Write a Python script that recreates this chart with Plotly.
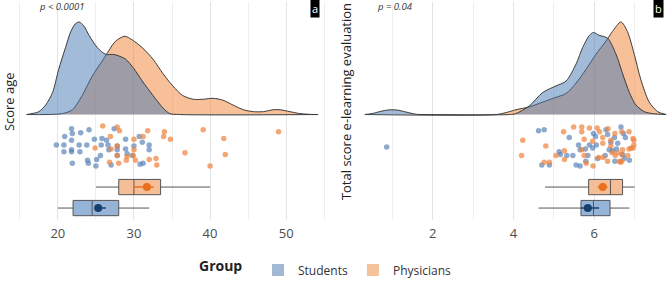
import plotly.graph_objects as go

# ---------------- data ----------------
groups = ["Students", "Physicians"]

# Panel a: age -- density curves (relative heights)
age_dens_x_students = [15.9, 16.6, 17.5, 18.4, 19.3, 20.1, 21.0, 21.7, 22.3, 22.8, 23.4, 24.1, 25.2,
                       26.3, 27.2, 27.8, 28.9, 30.0, 31.1, 32.5, 33.8, 34.7, 36.0, 54.2]
age_dens_students = [0, 1, 3, 10, 23, 47, 70, 87, 95, 97, 93, 83, 70,
                     63, 63, 62, 58, 48, 35, 20, 7, 1, 0, 0]
age_dens_x_physicians = [15.9, 20.6, 21.9, 23.2, 24.5, 25.9, 26.7, 27.6, 28.8, 29.8, 31.1, 32.5, 33.8,
                         35.1, 36.4, 37.8, 39.1, 40.4, 41.7, 43.0, 44.4, 45.7, 47.0, 48.3, 49.2, 50.5,
                         51.8, 53.6, 54.2]
age_dens_physicians = [0, 1, 5, 20, 40, 57, 67, 77, 82, 78, 70, 58, 43,
                       30, 20, 16, 16, 17, 15, 10, 5, 3, 3, 5, 5, 3,
                       1, 0, 0]

age_students = [21.8, 24.1, 23.0, 21.9, 20.9, 21.8, 19.8, 20.8, 22.8, 23.8, 24.8, 25.8, 25.7, 26.4,
                26.6, 27.4, 28.9, 28.9, 27.8, 26.7, 25.6, 25.1, 23.9, 24.0, 25.0, 21.9, 20.8, 21.8,
                21.8, 22.9, 27.0, 27.8, 29.1, 29.8, 30.0, 30.7, 31.1, 32.0, 32.0, 31.2, 30.8, 27.8]
age_students_jit = [15, 16, 19, 20, 23, 27, 32, 32, 32, 32, 26, 25, 32, 27, 32, 15, 26, 36, 37, 37,
                    43, 47, 48, 51, 54, 51, 39, 37, 39, 39, 53, 43, 41, 43, 33, 23, 29, 32, 37, 51, 52, 33]
age_physicians = [25.9, 27.8, 28.1, 26.9, 24.9, 27.0, 27.8, 27.8, 29.1, 29.0, 30.0, 30.0, 29.9, 30.2,
                  31.2, 31.8, 34.0, 33.9, 34.8, 32.9, 33.0, 32.0, 26.8, 28.0, 36.7, 39.1, 41.8, 42.0,
                  40.0, 49.0]
age_physicians_jit = [12, 13, 17, 23, 35, 36, 33, 43, 44, 48, 26, 37, 43, 48, 23, 17, 18, 23, 26, 46,
                      53, 47, 50, 51, 40, 16, 25, 42, 54, 18]

# box statistics  [Students, Physicians]
age_q1 = [22.0, 28.0]
age_median = [24.5, 30.0]
age_q3 = [28.0, 33.5]
age_lo = [20.0, 25.0]
age_hi = [32.0, 40.0]
age_mean = [25.3, 31.7]
age_ci_lo = [24.8, 30.0]
age_ci_hi = [26.3, 32.6]

# Panel b: total score e-learning evaluation
eval_dens_x_students = [0.32, 0.50, 0.68, 0.85, 0.99, 1.15, 1.30, 1.59, 1.90, 3.90, 4.06, 4.39, 4.72,
                        5.05, 5.30, 5.55, 5.71, 5.88, 5.98, 6.12, 6.33, 6.54, 6.70, 6.87, 7.03, 7.24,
                        7.44, 7.78]
eval_dens_students = [0, 1, 3, 4.5, 5, 4.5, 3, 0.3, 0, 0, 1, 9, 23,
                      30, 35, 53, 70, 83, 86, 83, 80, 63, 43, 23, 10, 3,
                      1, 0]
eval_dens_x_physicians = [0.32, 3.57, 3.81, 4.06, 4.39, 4.72, 5.05, 5.30, 5.55, 5.79, 6.04, 6.29, 6.45,
                          6.66, 6.82, 6.99, 7.15, 7.36, 7.57, 7.78]
eval_dens_physicians = [0, 0, 2, 5, 8, 13, 18, 22, 33, 47, 63, 77, 87,
                        97, 87, 63, 37, 13, 3, 0]

eval_students = [4.62, 4.76, 5.38, 5.61, 5.13, 5.16, 5.32, 5.47, 5.65, 5.78, 5.84, 5.96, 6.05, 6.08,
                 5.79, 5.55, 5.65, 4.70, 4.89, 5.98, 6.03, 6.33, 6.29, 6.50, 6.41, 6.58, 6.55, 6.66,
                 6.72, 6.77, 6.74, 6.87, 6.27, 6.37, 6.45, 6.51, 6.70, 5.88, 0.86]
eval_students_jit = [17, 16, 24, 32, 39, 42, 43, 43, 37, 36, 43, 35, 32, 46, 49, 53, 54, 53, 53, 20,
                     23, 21, 16, 24, 29, 30, 36, 13, 20, 24, 46, 48, 43, 37, 38, 49, 42, 32, 34]
eval_physicians = [4.23, 4.20, 4.80, 4.76, 4.89, 5.24, 5.49, 5.69, 5.88, 6.07, 6.13, 6.21, 6.41, 5.96,
                   5.75, 5.69, 5.75, 5.26, 5.05, 5.26, 5.80, 5.97, 6.11, 6.22, 6.34, 6.51, 6.68, 6.86,
                   6.96, 6.98, 6.86, 6.96, 6.83, 6.70, 6.58, 6.62, 6.68, 6.33, 6.41, 6.21, 6.52, 6.44,
                   6.91, 6.98, 6.68, 5.69, 6.65]
eval_physicians_jit = [27, 43, 33, 50, 50, 18, 13, 13, 14, 14, 18, 24, 27, 28, 26, 37, 43, 38, 43, 47,
                       51, 54, 45, 45, 15, 20, 18, 18, 25, 32, 36, 35, 43, 37, 40, 49, 49, 49, 33, 30,
                       43, 40, 35, 27, 42, 18, 50]

eval_q1 = [5.67, 5.86]
eval_median = [5.98, 6.40]
eval_q3 = [6.39, 6.70]
eval_lo = [4.62, 4.78]
eval_hi = [6.87, 7.00]
eval_mean = [5.84, 6.21]
eval_ci_lo = [5.67, 6.08]
eval_ci_hi = [6.12, 6.33]

p_values = ["p < 0.0001", "p = 0.04"]
panel_tags = ["a", "b"]
y_titles = ["Score age", "Total score e-learning evaluation"]
legend_title = "Group"

# ---------------- styling ----------------
FONT = "Open Sans"
DENS_H = 97  # height of the tallest density in y units (1 unit ~ 1px)
dens_fill = {"Students": "rgba(70,120,180,0.5)", "Physicians": "rgba(240,130,50,0.5)"}
pt_col = {"Students": "rgba(80,125,180,0.65)", "Physicians": "rgba(240,130,60,0.7)"}
box_fill = {"Students": "rgba(150,180,215,1)", "Physicians": "rgba(246,190,150,1)"}
mean_col = {"Students": "#163f6e", "Physicians": "#e8701e"}
leg_col = {"Students": "#a3b8d3", "Physicians": "#f6c29a"}
box_pos = {"Physicians": -76, "Students": -98}

fig = go.Figure()

panels = [
    dict(xa="x", ya="y",
         dx={"Students": age_dens_x_students, "Physicians": age_dens_x_physicians},
         dy={"Students": age_dens_students, "Physicians": age_dens_physicians},
         vals={"Students": age_students, "Physicians": age_physicians},
         jit={"Students": age_students_jit, "Physicians": age_physicians_jit},
         q1=age_q1, med=age_median, q3=age_q3, lo=age_lo, hi=age_hi,
         mean=age_mean, cil=age_ci_lo, cih=age_ci_hi),
    dict(xa="x2", ya="y2",
         dx={"Students": eval_dens_x_students, "Physicians": eval_dens_x_physicians},
         dy={"Students": eval_dens_students, "Physicians": eval_dens_physicians},
         vals={"Students": eval_students, "Physicians": eval_physicians},
         jit={"Students": eval_students_jit, "Physicians": eval_physicians_jit},
         q1=eval_q1, med=eval_median, q3=eval_q3, lo=eval_lo, hi=eval_hi,
         mean=eval_mean, cil=eval_ci_lo, cih=eval_ci_hi),
]

for p in panels:
    top = max(max(p["dy"]["Students"]), max(p["dy"]["Physicians"]))
    # densities (orange first, blue on top)
    for g in ["Physicians", "Students"]:
        fig.add_trace(go.Scatter(
            x=p["dx"][g], y=[v / top * DENS_H for v in p["dy"][g]],
            mode="lines", line=dict(color="#3c3c3c", width=1, shape="spline", smoothing=0.8),
            fill="tozeroy", fillcolor=dens_fill[g],
            xaxis=p["xa"], yaxis=p["ya"], hoverinfo="skip", showlegend=False))
    # jittered points
    for g in ["Students", "Physicians"]:
        fig.add_trace(go.Scatter(
            x=p["vals"][g], y=[-j for j in p["jit"][g]], mode="markers",
            marker=dict(size=5.5, color=pt_col[g], line=dict(width=0)),
            xaxis=p["xa"], yaxis=p["ya"], hoverinfo="skip", showlegend=False))
    # boxes
    for gi, g in enumerate(groups):
        fig.add_trace(go.Box(
            y=[box_pos[g]], q1=[p["q1"][gi]], median=[p["med"][gi]], q3=[p["q3"][gi]],
            lowerfence=[p["lo"][gi]], upperfence=[p["hi"][gi]], orientation="h",
            width=16, whiskerwidth=0, boxpoints=False, fillcolor=box_fill[g],
            line=dict(color="#555555", width=1),
            xaxis=p["xa"], yaxis=p["ya"], hoverinfo="skip", showlegend=False))
        fig.add_trace(go.Scatter(
            x=[p["mean"][gi]], y=[box_pos[g]], mode="markers",
            marker=dict(size=8, color=mean_col[g]),
            error_x=dict(type="data", symmetric=False,
                         array=[p["cih"][gi] - p["mean"][gi]],
                         arrayminus=[p["mean"][gi] - p["cil"][gi]],
                         width=0, thickness=1.5, color=mean_col[g]),
            xaxis=p["xa"], yaxis=p["ya"], hoverinfo="skip", showlegend=False))

# legend entries
for g in groups:
    fig.add_trace(go.Scatter(
        x=[None], y=[None], mode="markers", name=g,
        marker=dict(symbol="square", size=16, color=leg_col[g]),
        xaxis="x", yaxis="y"))

ydom = [(285 - 230) / 285, (285 - 2) / 285]
common_y = dict(range=[-110, 118], showticklabels=False, showgrid=False, zeroline=False,
                domain=ydom, fixedrange=True)
xcommon = dict(showgrid=True, gridcolor="#e4e4e4", gridwidth=1, zeroline=False, showline=False,
               ticks="", tickfont=dict(family=FONT, size=13, color="#4d4d4d"), ticklabelstandoff=4)

fig.update_layout(
    width=669, height=285,
    margin=dict(l=0, r=0, t=0, b=0),
    paper_bgcolor="white", plot_bgcolor="white",
    boxmode="overlay",
    font=dict(family=FONT, color="#222222"),
    xaxis=dict(domain=[16 / 669, 328 / 669], range=[14.5, 55.5], dtick=10, tick0=0,
               minor=dict(dtick=5, showgrid=True, gridcolor="#efefef", gridwidth=1), **xcommon),
    yaxis=dict(anchor="x", **common_y),
    xaxis2=dict(domain=[356 / 669, 1.0], range=[0.1, 7.85], dtick=2, tick0=0,
                minor=dict(dtick=1, showgrid=True, gridcolor="#efefef", gridwidth=1), **xcommon),
    yaxis2=dict(anchor="x2", **common_y),
    legend=dict(orientation="h", x=258 / 669, xanchor="left", y=2 / 285, yanchor="middle",
                font=dict(family=FONT, size=12, color="#333333"),
                itemsizing="constant", tracegroupgap=0, bgcolor="rgba(0,0,0,0)"),
)

title_y = 1 - 107 / 285
annotations = [
    dict(text=y_titles[0], x=9 / 669, y=title_y, xref="paper", yref="paper", textangle=-90,
         showarrow=False, font=dict(family=FONT, size=13, color="#222222"),
         xanchor="center", yanchor="middle"),
    dict(text=y_titles[1], x=346 / 669, y=title_y, xref="paper", yref="paper", textangle=-90,
         showarrow=False, font=dict(family=FONT, size=13, color="#222222"),
         xanchor="center", yanchor="middle"),
    dict(text="<b>" + legend_title + "</b>", x=220 / 669, y=7 / 285, xref="paper", yref="paper",
         showarrow=False, xanchor="center", yanchor="middle",
         font=dict(family=FONT, size=14, color="#222222")),
    dict(text="<i>" + p_values[0] + "</i>", x=37 / 669, y=1 - 7 / 285, xref="paper", yref="paper",
         showarrow=False, xanchor="left", yanchor="middle",
         font=dict(family=FONT, size=9.5, color="#333333")),
    dict(text="<i>" + p_values[1] + "</i>", x=375 / 669, y=1 - 7 / 285, xref="paper", yref="paper",
         showarrow=False, xanchor="left", yanchor="middle",
         font=dict(family=FONT, size=9.5, color="#333333")),
    dict(text=panel_tags[0], x=315 / 669, y=1 - 9 / 285, xref="paper", yref="paper",
         showarrow=False, xanchor="center", yanchor="middle", bgcolor="black",
         borderpad=1, font=dict(family=FONT, size=11, color="white")),
    dict(text=panel_tags[1], x=658 / 669, y=1 - 9 / 285, xref="paper", yref="paper",
         showarrow=False, xanchor="center", yanchor="middle", bgcolor="black",
         borderpad=1, font=dict(family=FONT, size=11, color="white")),
]
fig.update_layout(annotations=annotations)

fig.write_html("out.html", config={"displayModeBar": False},
               post_script="document.body.style.margin='0';document.body.style.overflow='hidden';")
